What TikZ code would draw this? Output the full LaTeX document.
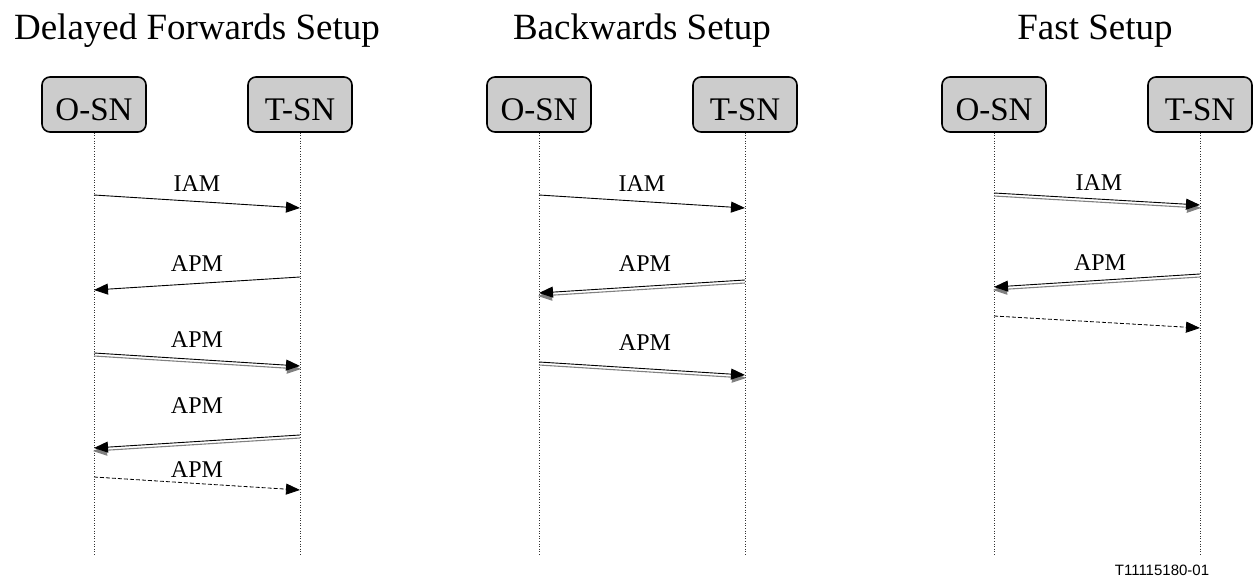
\documentclass[tikz,border=0pt]{standalone}
\usepackage{fontspec}
\setmainfont{Liberation Serif}
\newfontfamily\footfont{Liberation Sans}
\usetikzlibrary{arrows.meta}
\definecolor{boxgray}{RGB}{204,204,204}
\definecolor{shadowgray}{RGB}{128,128,128}
\tikzset{
  title/.style={font=\fontsize{37}{40}\selectfont, inner sep=0pt, anchor=base},
  entity/.style={draw=black, line width=1.6pt, fill=boxgray, rounded corners=8pt,
    minimum width=104pt, minimum height=55pt, inner sep=0pt,
    text height=32pt, text depth=0pt,
    font=\fontsize{33}{35}\selectfont},
  lifeline/.style={dotted, line width=0.6pt, black!80},
  msglabel/.style={font=\fontsize{24}{26}\selectfont, inner sep=0pt, anchor=base},
  tip/.style={-{Triangle[length=14pt,width=11pt]}},
  msg/.style={tip, line width=0.9pt, black},
  dmsgshadow/.style={tip, line width=1.1pt, shadowgray, shorten >=-1pt},
  dmsg/.style={tip, line width=0.9pt, black},
  dashmsg/.style={tip, line width=0.8pt, black, dash pattern=on 4pt off 2pt},
}
\begin{document}
\begin{tikzpicture}[x=1pt,y=-1pt]
\useasboundingbox (0,0) rectangle (1254,580);

% Titles
\node[title] (t1) at (197,40) {Delayed Forwards Setup};
\node[title] (t2) at (642,40) {Backwards Setup};
\node[title] (t3) at (1095,40) {Fast Setup};

% Entities
\foreach \p/\ox/\tx in {1/94/300, 2/539/745, 3/994/1200} {
  \node[entity] (o\p) at (\ox,104.5) {O-SN};
  \node[entity] (s\p) at (\tx,104.5) {T-SN};
  \coordinate (oe\p) at (\ox,555);
  \coordinate (se\p) at (\tx,555);
  \draw[lifeline] (o\p.south) -- (oe\p);
  \draw[lifeline] (s\p.south) -- (se\p);
}

% ---------- Panel 1 ----------
\coordinate (p1a) at (94,195);  \coordinate (p1b) at (300,208);
\draw[msg] (p1a) -- (p1b);
\node[msglabel] (l1a) at (197,192) {IAM};

\coordinate (p1c) at (300,277); \coordinate (p1d) at (94,290);
\draw[msg] (p1c) -- (p1d);
\node[msglabel] (l1b) at (197,272) {APM};

\coordinate (p1e) at (94,353);  \coordinate (p1f) at (300,366);
\draw[dmsgshadow] ([yshift=-3pt]p1e) -- ([yshift=-3pt]p1f);
\draw[dmsg] (p1e) -- (p1f);
\node[msglabel] (l1c) at (197,348) {APM};

\coordinate (p1g) at (300,435); \coordinate (p1h) at (94,448);
\draw[dmsgshadow] ([yshift=-3pt]p1g) -- ([yshift=-3pt]p1h);
\draw[dmsg] (p1g) -- (p1h);
\node[msglabel] (l1d) at (197,413) {APM};

\coordinate (p1i) at (94,477);  \coordinate (p1j) at (300,490);
\draw[dashmsg] (p1i) -- (p1j);
\node[msglabel] (l1e) at (197,477) {APM};

% ---------- Panel 2 ----------
\coordinate (p2a) at (539,195); \coordinate (p2b) at (745,208);
\draw[msg] (p2a) -- (p2b);
\node[msglabel] (l2a) at (642,192) {IAM};

\coordinate (p2c) at (745,280); \coordinate (p2d) at (539,293);
\draw[dmsgshadow] ([yshift=-3pt]p2c) -- ([yshift=-3pt]p2d);
\draw[dmsg] (p2c) -- (p2d);
\node[msglabel] (l2b) at (645,272) {APM};

\coordinate (p2e) at (539,362); \coordinate (p2f) at (745,375);
\draw[dmsgshadow] ([yshift=-3pt]p2e) -- ([yshift=-3pt]p2f);
\draw[dmsg] (p2e) -- (p2f);
\node[msglabel] (l2c) at (645,350) {APM};

% ---------- Panel 3 ----------
\coordinate (p3a) at (994,193);  \coordinate (p3b) at (1200,205);
\draw[dmsgshadow] ([yshift=-3pt]p3a) -- ([yshift=-3pt]p3b);
\draw[dmsg] (p3a) -- (p3b);
\node[msglabel] (l3a) at (1099,191) {IAM};

\coordinate (p3c) at (1200,274); \coordinate (p3d) at (994,287);
\draw[dmsgshadow] ([yshift=-3pt]p3c) -- ([yshift=-3pt]p3d);
\draw[dmsg] (p3c) -- (p3d);
\node[msglabel] (l3b) at (1100,271) {APM};

\coordinate (p3e) at (994,316);  \coordinate (p3f) at (1200,328);
\draw[dashmsg] (p3e) -- (p3f);

% Footer
\node[font=\footfont\fontsize{15}{17}\selectfont, inner sep=0pt] (fig) at (1162,570) {T11115180-01};
\end{tikzpicture}
\end{document}
